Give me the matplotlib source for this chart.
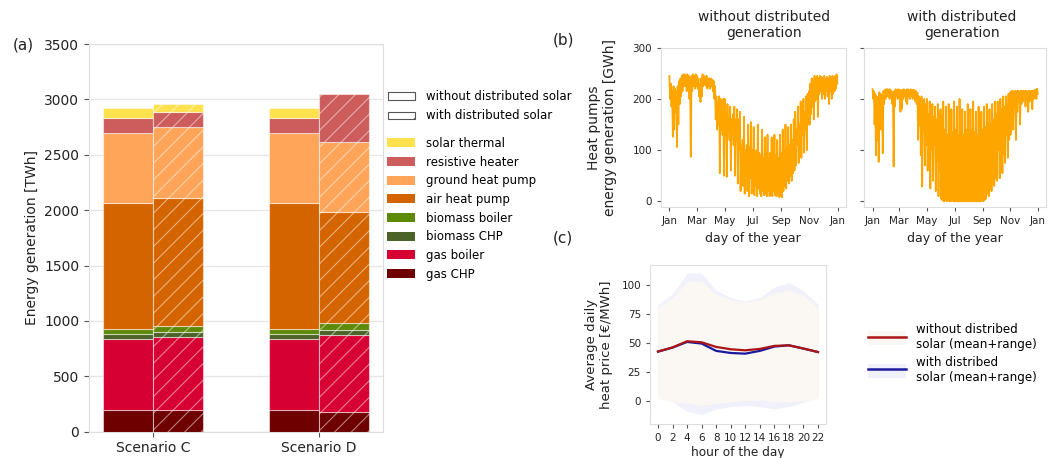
import numpy as np
import pandas as pd
import matplotlib
matplotlib.use("Agg")
import matplotlib.pyplot as plt
import matplotlib.dates as mdates
from matplotlib.patches import Patch
from matplotlib.lines import Line2D

plt.rcParams['font.family'] = ['DejaVu Sans']
plt.rcParams['hatch.linewidth'] = 0.8

# ---------------- (a) annual heat generation by technology [TWh] ----------------
scenarios = ["Scenario C", "Scenario D"]
technologies = ["gas CHP", "gas boiler", "biomass CHP", "biomass boiler",
                "air heat pump", "ground heat pump", "resistive heater", "solar thermal"]
tech_colors = ["#6E0000", "#D70032", "#4B6229", "#5E8A0A",
               "#D46400", "#FFA55A", "#CD5C5C", "#FFE14D"]
gen_C_without = [193, 641, 51, 45, 1135, 632, 132, 90]
gen_C_with = [193, 665, 45, 48, 1156, 641, 135, 75]
gen_D_without = [193, 641, 51, 45, 1135, 632, 132, 90]
gen_D_with = [175, 701, 42, 60, 1005, 635, 428, 0]

# ---------------- (b) heat pump generation: upper / lower value per 3-day block [GWh] ----------------
hp_without_hi = [
    245, 230, 215, 225, 220, 215, 225, 235, 240, 245, 248,
    248, 245, 248, 245, 240, 245, 248, 245, 248,
    245, 240, 230, 240, 248, 245, 243, 245, 240, 240,
    240, 238, 235, 225, 205, 195, 205, 200, 190, 200,
    200, 175, 190, 165, 185, 160, 170, 185, 160, 180, 160,
    175, 110, 120, 165, 100, 110, 150, 105, 155, 100,
    145, 90, 100, 150, 95, 90, 140, 85, 125, 95,
    130, 85, 95, 125, 80, 130, 90, 120, 85, 130,
    95, 140, 100, 150, 105, 145, 110, 150, 120, 160,
    175, 140, 185, 150, 195, 165, 200, 175, 205, 210,
    215, 230, 240, 235, 245, 240, 245, 240, 245, 243,
    240, 245, 240, 243, 240, 245, 240, 245, 243, 245, 248,
]
hp_without_lo = [
    200, 185, 126, 140, 175, 106, 150, 190, 205, 215, 225,
    225, 215, 220, 200, 87, 215, 225, 220, 225,
    220, 205, 194, 205, 225, 228, 225, 220, 225, 220,
    225, 215, 200, 160, 140, 150, 55, 140, 130, 50,
    130, 48, 140, 120, 60, 130, 110, 50, 120, 35, 100,
    20, 40, 30, 15, 50, 20, 10, 45, 15, 25,
    12, 30, 10, 25, 15, 10, 20, 12, 15, 10,
    20, 10, 15, 10, 20, 12, 10, 15, 8, 10,
    8, 20, 30, 25, 40, 35, 50, 40, 55, 60,
    70, 110, 75, 120, 85, 130, 95, 140, 100, 150,
    150, 170, 185, 160, 195, 200, 165, 210, 215, 200,
    210, 200, 215, 205, 190, 215, 200, 210, 215, 220, 230,
]
hp_with_hi = [
    219, 215, 210, 205, 200, 213, 210, 205, 215, 218, 219,
    219, 218, 219, 215, 210, 215, 219, 218, 219,
    218, 215, 218, 219, 216, 218, 219, 216, 219, 217,
    218, 217, 215, 212, 205, 200, 205, 195, 200, 190,
    200, 170, 195, 160, 190, 165, 185, 160, 190, 170, 180,
    165, 195, 140, 185, 130, 190, 140, 180, 135, 195,
    140, 185, 130, 200, 135, 180, 130, 175, 140, 190,
    130, 180, 140, 195, 135, 175, 130, 185, 140, 175,
    140, 185, 145, 190, 150, 180, 150, 190, 160, 195,
    170, 195, 175, 200, 180, 205, 185, 205, 190, 210,
    212, 215, 216, 214, 216, 215, 216, 214, 216, 215,
    216, 215, 216, 214, 216, 215, 216, 215, 217, 218, 220,
]
hp_with_lo = [
    200, 150, 90, 120, 77, 160, 140, 94, 190, 200, 205,
    205, 200, 205, 190, 68, 185, 205, 200, 205,
    175, 180, 200, 205, 195, 190, 205, 200, 205, 200,
    205, 195, 190, 120, 150, 90, 29, 140, 70, 110,
    60, 120, 25, 100, 40, 110, 20, 80, 10, 60, 5,
    2, 0, 3, 0, 2, 0, 0, 2, 0, 0,
    0, 0, 0, 0, 0, 0, 0, 0, 0, 0,
    0, 0, 0, 0, 0, 0, 0, 0, 0, 2,
    0, 3, 5, 15, 10, 25, 20, 35, 30, 45,
    40, 100, 45, 120, 55, 90, 75, 130, 85, 120,
    130, 160, 140, 185, 120, 175, 195, 150, 190, 195,
    200, 185, 200, 175, 195, 200, 180, 200, 205, 200, 210,
]
block_start = pd.date_range("2019-01-01", periods=len(hp_without_hi), freq="3D")

# ---------------- (c) average daily heat price [EUR/MWh] ----------------
hours = [0, 2, 4, 6, 8, 10, 12, 14, 16, 18, 20, 22]
price_without_mean = [42.4, 46.0, 51.3, 50.4, 46.4, 44.4, 43.5, 44.7, 47.3, 47.8, 45.0, 42.0]
price_without_min = [2, -1, -2, -4, -2, -1, 0.5, 0.5, -1, -1, 0, 2]
price_without_max = [80, 89, 103, 103, 92, 87, 85, 87, 93, 95, 91, 80]
price_with_mean = [42.4, 45.8, 50.7, 49.3, 43.0, 41.2, 40.6, 43.0, 46.7, 47.8, 45.0, 42.0]
price_with_min = [5, -1, -9, -12, -7, -5, -4, -5, -7, -5, -1, 3]
price_with_max = [83, 92, 110, 110, 95, 89, 86, 89, 98, 102, 95, 83]

W, H = 1049, 458
fig = plt.figure(figsize=(W / 100, H / 100), dpi=100)


def box(x0, y0, x1, y1):
    return [x0 / W, 1 - y1 / H, (x1 - x0) / W, (y1 - y0) / H]


frame_col = "#DDDDDD"
tick_col = "#555555"
text_col = "#222222"

# ---- panel (a)
axa = fig.add_axes(box(89, 44, 383, 431.7))
xc = np.arange(len(scenarios))
width = 0.3
stacks = [(xc[0] - width / 2, gen_C_without, None), (xc[0] + width / 2, gen_C_with, "//"),
          (xc[1] - width / 2, gen_D_without, None), (xc[1] + width / 2, gen_D_with, "//")]
for xpos, vals, hatch in stacks:
    bottom = 0
    for v, col in zip(vals, tech_colors):
        if v > 0:
            axa.bar(xpos, v, width=width, bottom=bottom, color=col,
                    edgecolor=(1, 1, 1, 0.5), linewidth=0.8, hatch=hatch, zorder=3)
        bottom += v
axa.set_xlim(-0.386, 1.386)
axa.set_ylim(0, 3500)
axa.set_yticks(np.arange(0, 3501, 500))
axa.set_xticks(xc)
axa.set_xticklabels(scenarios)
axa.grid(axis="y", color="#E6E6E6", linewidth=1, zorder=0)
axa.set_ylabel("Energy generation [TWh]", fontsize=10, color=text_col)
axa.tick_params(labelsize=10, length=3.5, color=tick_col, labelcolor=text_col)
for s in axa.spines.values():
    s.set_color(frame_col)

hatch_handles = [Patch(facecolor="white", edgecolor="#555555", linewidth=0.8),
                 Patch(facecolor="white", edgecolor="#555555", linewidth=0.8, hatch="/")]
fig.legend(hatch_handles, ["without distributed solar", "with distributed solar"],
           loc="upper left", bbox_to_anchor=(388 / W, 1 - 90 / H), frameon=False,
           fontsize=8.5, handlelength=2.3, handleheight=0.6, handletextpad=0.9,
           labelspacing=0.55, borderpad=0, borderaxespad=0)
tech_handles = [Patch(facecolor=c) for c in tech_colors][::-1]
fig.legend(tech_handles, technologies[::-1], loc="upper left",
           bbox_to_anchor=(387 / W, 1 - 137 / H), frameon=False, fontsize=8.5,
           handlelength=2.4, handleheight=0.8, handletextpad=0.9,
           labelspacing=0.48, borderpad=0, borderaxespad=0)

# ---- panel (b)
axb1 = fig.add_axes(box(661, 47.7, 845.7, 207))
axb2 = fig.add_axes(box(864.3, 47.7, 1046, 207), sharey=axb1)
half_block = pd.Timedelta(hours=36)
for ax, hi, lo in ((axb1, hp_without_hi, hp_without_lo), (axb2, hp_with_hi, hp_with_lo)):
    # trace each block from its upper to its lower value, as the hourly series swings
    t = np.empty(2 * len(hi), dtype="datetime64[ns]")
    y = np.empty(2 * len(hi))
    t[0::2] = block_start.values
    t[1::2] = (block_start + half_block).values
    y[0::2] = hi
    y[1::2] = lo
    ax.plot(t, y, color="#FFA500", linewidth=1.3)
    ax.xaxis.set_major_locator(mdates.MonthLocator(bymonth=[1, 3, 5, 7, 9, 11]))
    ax.xaxis.set_major_formatter(mdates.DateFormatter("%b"))
    ax.tick_params(labelsize=7.5, length=3, color=tick_col, labelcolor=text_col)
    ax.set_xlabel("day of the year", fontsize=9, color=text_col, labelpad=4)
    for s in ax.spines.values():
        s.set_color(frame_col)
axb1.set_ylim(-11, 300)
axb1.set_yticks([0, 100, 200, 300])
axb2.tick_params(labelleft=False)
axb1.set_ylabel("Heat pumps\nenergy generation [GWh]", fontsize=10, color=text_col, labelpad=11)
fig.text(764 / W, 1 - 25 / H, "without distributed\ngeneration", ha="center", va="center",
         fontsize=10, color=text_col, linespacing=1.1)
fig.text(962 / W, 1 - 25 / H, "with distributed\ngeneration", ha="center", va="center",
         fontsize=10, color=text_col, linespacing=1.1)

# ---- panel (c)
axc = fig.add_axes(box(650, 265, 826, 424))
band_without = "#FBF7F2"
band_with = "#F1F1FB"
line_without = "#AA1515"
line_with = "#1A1A9E"
axc.fill_between(hours, price_with_min, price_with_max, color=band_with, linewidth=0)
axc.fill_between(hours, price_without_min, price_without_max, color=band_without, linewidth=0)
axc.plot(hours, price_with_mean, color=line_with, linewidth=1.6)
axc.plot(hours, price_without_mean, color=line_without, linewidth=1.6)
axc.set_xticks(hours)
axc.set_yticks([0, 25, 50, 75, 100])
axc.set_ylim(-20, 117)
axc.tick_params(labelsize=7.5, length=3, color=tick_col, labelcolor=text_col)
axc.set_xlabel("hour of the day", fontsize=8.7, color=text_col, labelpad=2)
axc.set_ylabel("Average daily\nheat price [\u20ac/MWh]", fontsize=9.5, color=text_col, labelpad=6)
for s in axc.spines.values():
    s.set_color(frame_col)
c_handles = [(Patch(facecolor=band_without), Line2D([], [], color=line_without, linewidth=1.8)),
             (Patch(facecolor=band_with), Line2D([], [], color=line_with, linewidth=1.8))]
fig.legend(c_handles, ["without distribed\nsolar (mean+range)", "with distribed\nsolar (mean+range)"],
           loc="upper left", bbox_to_anchor=(868 / W, 1 - 323 / H), frameon=False,
           fontsize=8.6, handlelength=3.2, handleheight=1.4, handletextpad=0.8,
           labelspacing=0.4, borderpad=0, borderaxespad=0)

# panel letters
for x, y, s in ((13, 45, "(a)"), (553, 40, "(b)"), (553, 238, "(c)")):
    fig.text(x / W, 1 - y / H, s, ha="left", va="center", fontsize=11, color=text_col)

fig.savefig("out.png", dpi=100)
